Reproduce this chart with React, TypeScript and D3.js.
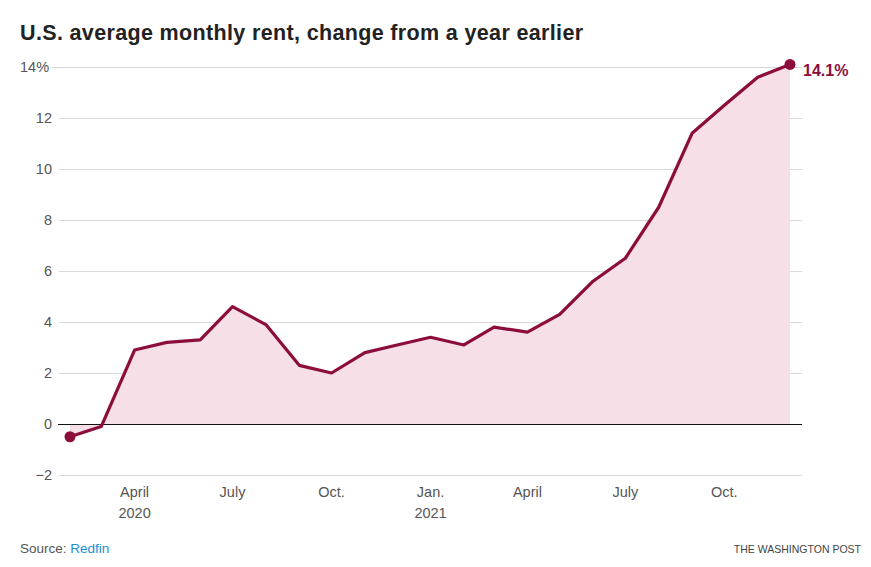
import React, { useEffect } from 'react';
import * as d3 from 'd3';

// monthly year-over-year change, Feb 2020 .. Dec 2021
const months = [
  '2020-02', '2020-03', '2020-04', '2020-05', '2020-06', '2020-07', '2020-08',
  '2020-09', '2020-10', '2020-11', '2020-12', '2021-01', '2021-02', '2021-03',
  '2021-04', '2021-05', '2021-06', '2021-07', '2021-08', '2021-09', '2021-10',
  '2021-11', '2021-12',
];
const rentChange = [
  -0.5, -0.1, 2.9, 3.2, 3.3, 4.6, 3.9, 2.3, 2.0, 2.8, 3.1, 3.4, 3.1, 3.8,
  3.6, 4.3, 5.6, 6.5, 8.5, 11.4, 12.5, 13.6, 14.1,
];
const yTicks = [-2, 0, 2, 4, 6, 8, 10, 12, 14];
const xTickMonths = ['2020-04', '2020-07', '2020-10', '2021-01', '2021-04', '2021-07', '2021-10'];
const xTickLabels = [['April', '2020'], ['July'], ['Oct.'], ['Jan.', '2021'], ['April'], ['July'], ['Oct.']];

const parseMonth = d3.timeParse('%Y-%m');
const data = months.map((m, i) => ({ date: parseMonth(m) as Date, value: rentChange[i] }));

const W = 871;
const H = 567;
const LINE = '#8c0d3c';
const FILL = '#f6dfe6';
const FONT = '"Liberation Sans", Arial, sans-serif';

export default function App() {
  useEffect(() => {
    document.body.style.margin = '0';
  }, []);

  const x = d3.scaleTime()
    .domain([data[0].date, data[data.length - 1].date])
    .range([70, 790]);
  const y = d3.scaleLinear().domain([0, 14]).range([424, 67]);

  const line = d3.line<{ date: Date; value: number }>()
    .x(d => x(d.date))
    .y(d => y(d.value));
  const area = d3.area<{ date: Date; value: number }>()
    .x(d => x(d.date))
    .y0(y(0))
    .y1(d => y(d.value));

  const first = data[0];
  const last = data[data.length - 1];

  return (
    <svg width={W} height={H} style={{ display: 'block', fontFamily: FONT }}>
      <text x={20} y={40} fontSize={21.5} fontWeight="bold" fill="#222" letterSpacing={0.35}>
        U.S. average monthly rent, change from a year earlier
      </text>

      {yTicks.map(t => (
        <g key={t}>
          {t !== 0 && (
            <line x1={t === 14 ? 52 : 59} x2={802} y1={y(t) + 0.5} y2={y(t) + 0.5} stroke="#d9d9d9" strokeWidth={1} />
          )}
          <text
            x={t === 14 ? 20 : 52}
            y={y(t)}
            dy="0.35em"
            textAnchor={t === 14 ? 'start' : 'end'}
            fontSize={14.5}
            fill="#555"
          >
            {t === 14 ? '14%' : t < 0 ? `\u2212${Math.abs(t)}` : t}
          </text>
        </g>
      ))}

      <path d={area(data) ?? ''} fill={FILL} />
      <line x1={58} x2={802} y1={y(0) + 0.5} y2={y(0) + 0.5} stroke="#111" strokeWidth={1} shapeRendering="crispEdges" />
      <path d={line(data) ?? ''} fill="none" stroke={LINE} strokeWidth={3.2} strokeLinejoin="round" />
      <circle cx={x(first.date)} cy={y(first.value)} r={5.5} fill={LINE} />
      <circle cx={x(last.date)} cy={y(last.value)} r={5.5} fill={LINE} />
      <text x={x(last.date) + 13} y={y(last.value) + 12} fontSize={16} fontWeight="bold" fill={LINE}>
        {`${last.value}%`}
      </text>

      {xTickMonths.map((m, i) => (
        <text key={m} x={x(parseMonth(m) as Date)} y={497} textAnchor="middle" fontSize={14.5} fill="#555">
          {xTickLabels[i].map((l, j) => (
            <tspan key={j} x={x(parseMonth(m) as Date)} dy={j === 0 ? 0 : 21}>{l}</tspan>
          ))}
        </text>
      ))}

      <text x={20} y={553} fontSize={13.5} fill="#555">
        Source: <tspan fill="#1a8fd6">Redfin</tspan>
      </text>
      <text x={861} y={553} textAnchor="end" fontSize={10.5} fill="#444">
        THE WASHINGTON POST
      </text>
    </svg>
  );
}
